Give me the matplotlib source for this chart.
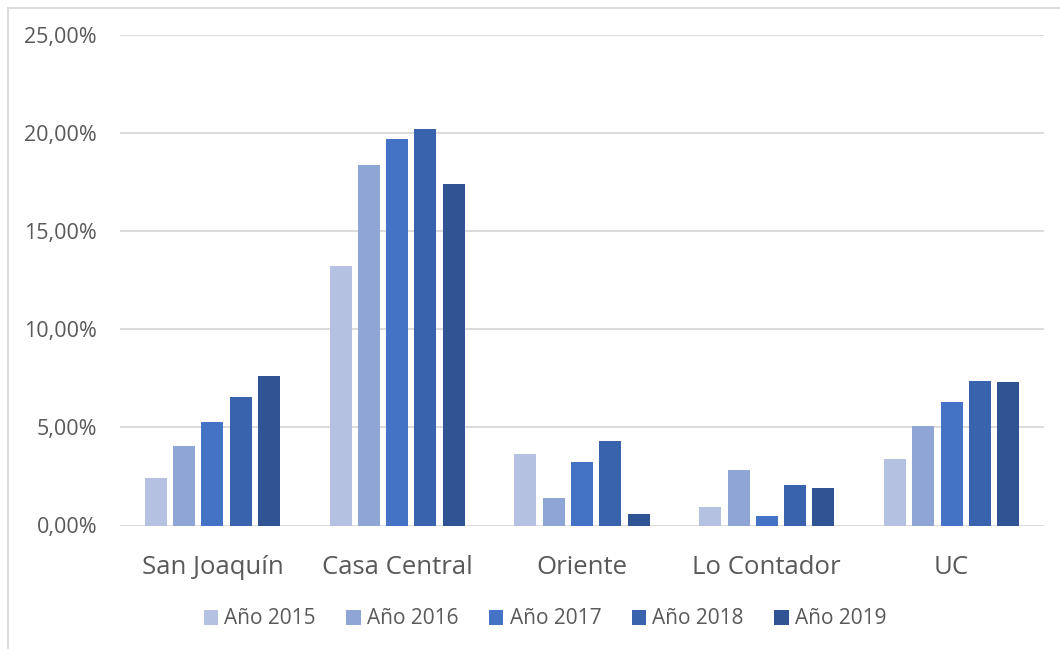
import matplotlib
matplotlib.use("Agg")
import matplotlib.pyplot as plt
import numpy as np
from matplotlib.ticker import FuncFormatter
from matplotlib.lines import Line2D

categories = ["San Joaquín", "Casa Central", "Oriente", "Lo Contador", "UC"]
series_names = ["Año 2015", "Año 2016", "Año 2017", "Año 2018", "Año 2019"]
v2015 = [2.44, 13.19, 3.62, 0.92, 3.39]
v2016 = [4.06, 18.35, 1.42, 2.85, 5.07]
v2017 = [5.27, 19.67, 3.21, 0.49, 6.28]
v2018 = [6.53, 20.21, 4.30, 2.06, 7.37]
v2019 = [7.62, 17.39, 0.61, 1.89, 7.32]
yticks = [0, 5, 10, 15, 20, 25]

values = [v2015, v2016, v2017, v2018, v2019]
colors = ["#B4C1E1", "#8FA5D5", "#4472C4", "#3A63AE", "#2F5393"]

plt.rcParams['font.family'] = ['Open Sans', 'DejaVu Sans']
fig = plt.figure(figsize=(10.6, 6.49), dpi=100)
ax = fig.add_axes([120/1060, 1-525.5/649, 924/1060, (525.5-34.5)/649])

x = np.arange(len(categories))
slot = 0.153
bw = 0.119
for i, (name, vals) in enumerate(zip(series_names, values)):
    ax.bar(x + (i - 2) * slot, vals, width=bw, color=colors[i], label=name, zorder=3)

ax.set_xlim(-0.5, len(categories) - 0.5)
ax.set_ylim(0, 25)
ax.set_yticks(yticks)
ax.yaxis.set_major_formatter(FuncFormatter(lambda v, p: f"{v:.2f}%".replace(".", ",")))
ax.grid(axis='y', color='#D9D9D9', linewidth=1.3, zorder=0)
for s in ax.spines.values():
    s.set_visible(False)
ax.tick_params(axis='y', length=0, pad=16.5, labelsize=15.5, labelcolor='#595959')
ax.tick_params(axis='x', length=0, pad=21, labelsize=18.5, labelcolor='#595959')
ax.set_xticks(x)
ax.set_xticklabels(categories)

leg = fig.legend(loc='center', bbox_to_anchor=(545/1060, 1-619/649), ncol=5, frameon=False,
                 fontsize=15, handlelength=0.7, handleheight=0.7, handletextpad=0.3,
                 columnspacing=1.45, labelcolor='#595959')

# chart border (left and top visible)
fig.add_artist(Line2D([7.5/1060, 7.5/1060], [0, 1-7.5/649], transform=fig.transFigure, color='#D9D9D9', lw=1.3))
fig.add_artist(Line2D([7.5/1060, 1], [1-7.5/649, 1-7.5/649], transform=fig.transFigure, color='#D9D9D9', lw=1.3))

fig.savefig("out.png", dpi=100)
